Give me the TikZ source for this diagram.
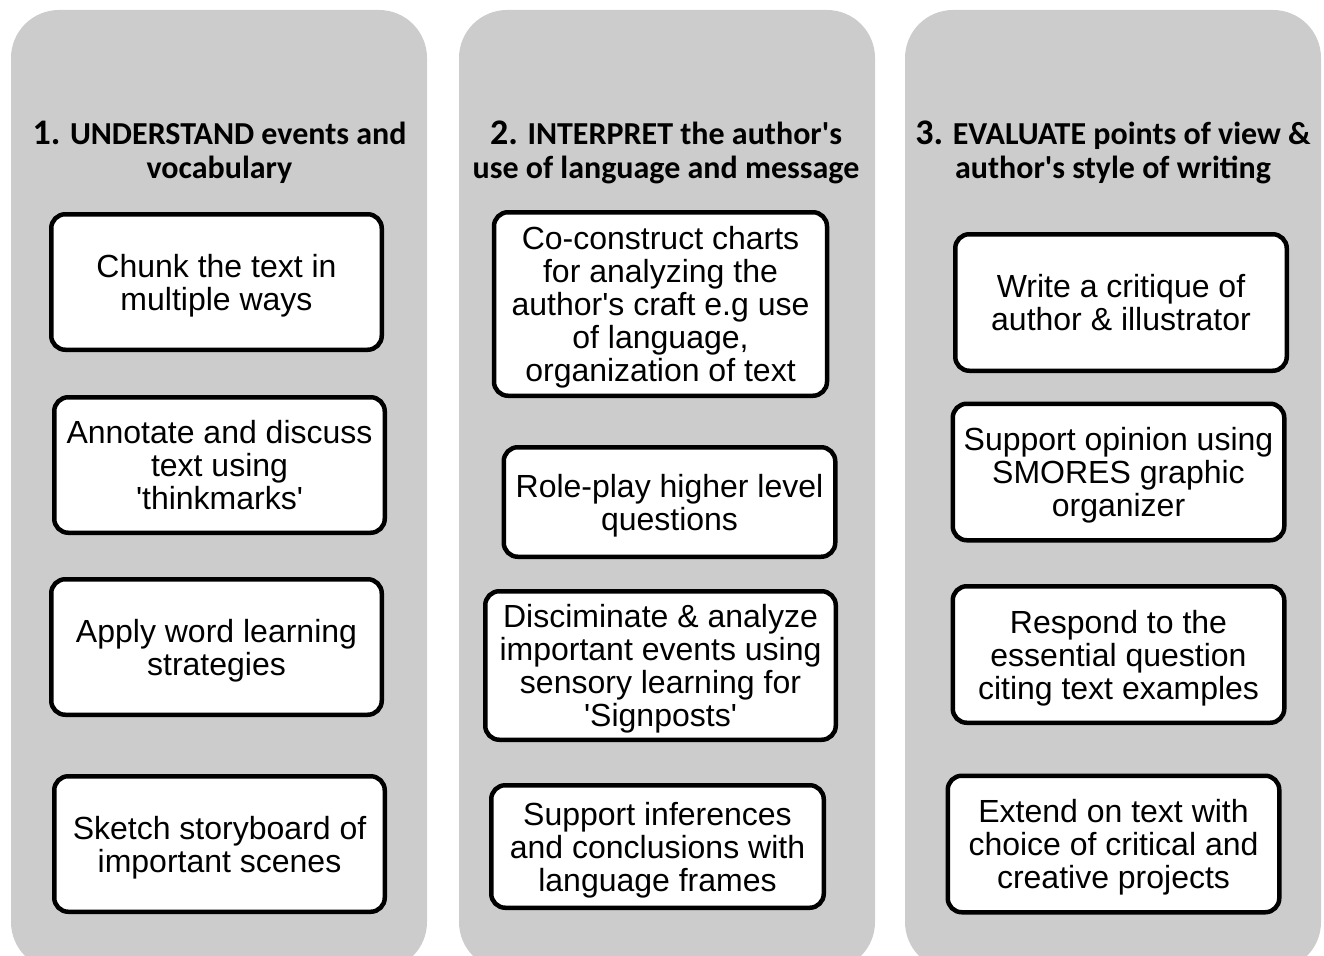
\documentclass[tikz,border=0pt]{standalone}
\usepackage{fontspec}
\setmainfont{Liberation Sans}
\newfontfamily\hfont{Carlito}
\newcommand{\sq}{\textquotesingle}
\begin{document}
\begin{tikzpicture}[x=1pt,y=-1pt]
\tikzset{
  panel/.style={fill=black!20, draw=none, rounded corners=48pt},
  tbox/.style={draw=black, fill=white, line width=4.5pt, rounded corners=14pt,
    align=center, inner sep=0pt, text depth=0pt, font=\fontsize{32}{33}\selectfont},
  head/.style={align=center, inner sep=0pt, font=\hfont\bfseries\fontsize{32}{34}\selectfont, anchor=base},
}
\useasboundingbox (0,0) rectangle (1324,955);
\begin{scope}
\clip (0,0) rectangle (1324,955);
\fill[panel] (11,10) rectangle (427,970);
\fill[panel] (459,10) rectangle (875,970);
\fill[panel] (905,10) rectangle (1321,970);
\end{scope}
% headings
\node[head] (h1) at (219.5,178) {{\fontsize{36}{34}\selectfont 1.} UNDERSTAND events and\\vocabulary};
\node[head] (h2) at (666,178) {{\fontsize{36}{34}\selectfont 2.} INTERPRET the author's\\use of language and message};
\node[head] (h3) at (1113,178) {{\fontsize{36}{34}\selectfont 3.} EVALUATE points of view \&\\author's style of writing};
% column 1
\node[tbox, minimum width=330.5pt, minimum height=135.5pt] (b11) at (216.5,282) {Chunk the text in\\multiple ways};
\node[tbox, minimum width=330.5pt, minimum height=135.5pt] (b12) at (219.5,465) {Annotate and discuss\\text using\\\sq thinkmarks\sq};
\node[tbox, minimum width=330.5pt, minimum height=135.5pt] (b13) at (216.5,647) {Apply word learning\\strategies};
\node[tbox, minimum width=330.5pt, minimum height=135.5pt] (b14) at (219.5,844) {Sketch storyboard of\\important scenes};
% column 2
\node[tbox, minimum width=333pt, minimum height=183.5pt] (b21) at (660.5,304) {Co-construct charts\\for analyzing the\\author\sq s craft e.g use\\of language,\\organization of text};
\node[tbox, minimum width=331.5pt, minimum height=109.5pt] (b22) at (669.5,502) {Role-play higher level\\questions};
\node[tbox, minimum width=350.5pt, minimum height=148.5pt] (b23) at (660.5,665.5) {Disciminate \& analyze\\important events using\\sensory learning for\\\sq Signposts\sq};
\node[tbox, minimum width=332.5pt, minimum height=122.5pt] (b24) at (657.5,846.5) {Support inferences\\and conclusions with\\language frames};
% column 3
\node[tbox, minimum width=331.5pt, minimum height=136.5pt] (b31) at (1121,302.5) {Write a critique of\\author \& illustrator};
\node[tbox, minimum width=331.5pt, minimum height=136.5pt] (b32) at (1118.5,472) {Support opinion using\\SMORES graphic\\organizer};
\node[tbox, minimum width=331.5pt, minimum height=136.5pt] (b33) at (1118.5,654.5) {Respond to the\\essential question\\citing text examples};
\node[tbox, minimum width=331.5pt, minimum height=136.5pt] (b34) at (1113.5,844) {Extend on text with\\choice of critical and\\creative projects};
\end{tikzpicture}
\end{document}
